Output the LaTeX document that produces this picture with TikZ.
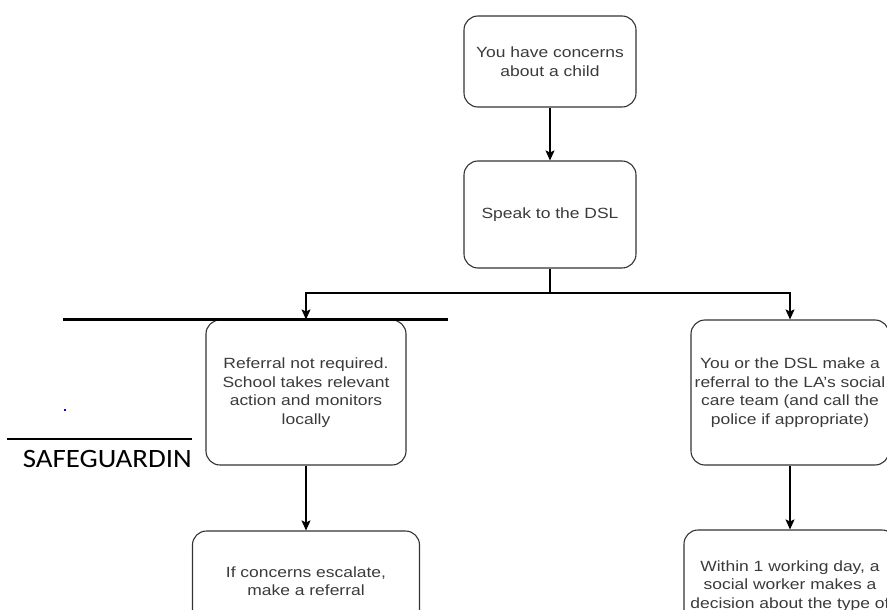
\documentclass[tikz,border=0pt]{standalone}
\usepackage{fontspec}
\setmainfont{Liberation Sans}[FakeStretch=1.18]
\newfontfamily\titlefont{Carlito}[FakeStretch=1.09]
\usetikzlibrary{arrows.meta}

\definecolor{boxline}{HTML}{333333}
\definecolor{boxtext}{HTML}{3A3A3A}

\tikzset{
    flowbox/.style={draw=boxline, line width=1.1pt, rounded corners=14pt,
        align=center, text=boxtext, inner sep=0pt,
        font=\fontsize{14.8}{18.5}\selectfont},
    conn/.style={draw=black, line width=1.1pt,
        -{Stealth[length=10pt,width=9pt,inset=2pt]}},
}

\begin{document}
\begin{tikzpicture}[x=1pt, y=-1pt]
    % 画布大小
    \clip (0,0) rectangle (887,610);

    % 上面两个框
    \node[flowbox, minimum width=172pt, minimum height=91pt] (concern) at (550, 61.5)
        {You have concerns\\about a child};
    \node[flowbox, minimum width=172pt, minimum height=107pt] (speak) at (550, 214.5)
        {Speak to the DSL};

    % 左边一列
    \node[flowbox, minimum width=200pt, minimum height=145pt] (notreq) at (306, 392.5)
        {Referral not required.\\School takes relevant\\action and monitors\\locally};
    \node[flowbox, minimum width=227pt, minimum height=100pt] (escalate) at (306, 581)
        {If concerns escalate,\\make a referral};

    % 右边一列
    \node[flowbox, minimum width=198pt, minimum height=145pt] (referral) at (790, 392.5)
        {You or the DSL make a\\referral to the LA's social\\care team (and call the\\police if appropriate)};
    \node[flowbox, minimum width=212pt, minimum height=112pt] (decision) at (790, 586)
        {Within 1 working day, a\\social worker makes a\\decision about the type of};

    % 分叉点
    \coordinate (split) at (speak.south |- 0, 293);

    % 连线
    \draw[conn] (concern) -- (speak);
    \draw[line width=1.1pt] (speak.south) -- (split);
    \draw[conn] (split) -| (notreq.north);
    \draw[conn] (split) -| (referral.north);
    \draw[conn] (notreq) -- (escalate);
    \draw[conn] (referral) -- (decision);

    % 页面上的其他东西
    \coordinate (ruleA) at (63, 319.5);
    \coordinate (ruleB) at (448, 319.5);
    \draw[line width=3pt] (ruleA) -- (ruleB);
    \coordinate (ruleC) at (7, 439);
    \coordinate (ruleD) at (192, 439);
    \draw[line width=2pt] (ruleC) -- (ruleD);
    \node[anchor=base east, inner sep=0pt, font=\titlefont\fontsize{26.5}{30}\selectfont] (title) at (192, 467)
        {SAFEGUARDIN};
    \fill[blue] (64, 409) rectangle (66, 411);

\end{tikzpicture}
\end{document}
